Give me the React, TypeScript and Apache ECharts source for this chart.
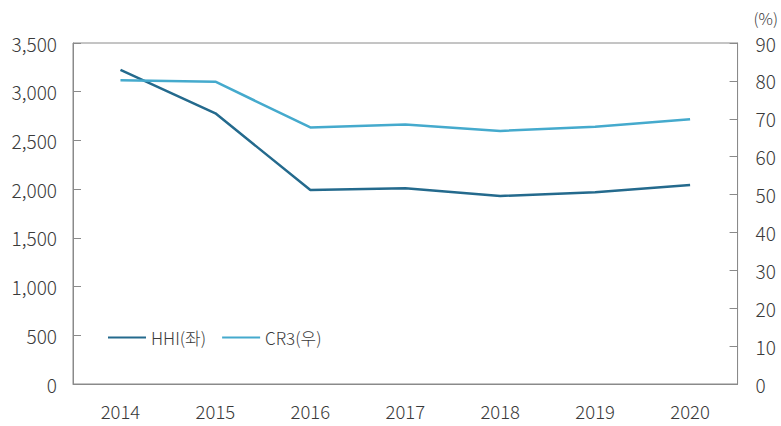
import React, { useEffect, useRef } from "react";
import * as echarts from "echarts";

const years = ["2014", "2015", "2016", "2017", "2018", "2019", "2020"];
const hhi = [3223, 2778, 1991, 2009, 1930, 1967, 2042];
const cr3 = [80.2, 79.8, 67.7, 68.5, 66.8, 67.9, 69.9];
const seriesNames = ["HHI(좌)", "CR3(우)"];

const FONT = "'Noto Sans CJK KR', 'Noto Sans', sans-serif";
const TEXT = "#3a3a3a";
const AXIS = "#8a8a8a";

export default function App() {
  const ref = useRef<HTMLDivElement>(null);
  useEffect(() => {
    if (!ref.current) return;
    const chart = echarts.init(ref.current, undefined, { renderer: "svg" });
    chart.setOption({
      animation: false,
      textStyle: { fontFamily: FONT },
      grid: {
        left: 73,
        right: 43,
        top: 43,
        bottom: 42,
        show: true,
        borderColor: AXIS,
        borderWidth: 1,
        containLabel: false,
      },
      legend: {
        left: 103,
        top: 324,
        itemWidth: 38,
        itemHeight: 10,
        itemGap: 16,
        icon: "path://M0,4 L38,4 L38,6 L0,6 Z",
        textStyle: { fontSize: 17, color: TEXT, fontFamily: FONT, fontWeight: 300 },
        data: seriesNames,
      },
      xAxis: {
        type: "category",
        data: years,
        boundaryGap: true,
        axisLine: { lineStyle: { color: AXIS, width: 1 } },
        axisTick: { inside: true, length: 7, lineStyle: { color: AXIS } },
        axisLabel: { fontSize: 18.5, color: TEXT, margin: 18, fontFamily: FONT, fontWeight: 300 },
        splitLine: { show: false },
      },
      yAxis: [
        {
          type: "value",
          min: 0,
          max: 3500,
          interval: 500,
          axisLine: { show: true, lineStyle: { color: AXIS } },
          axisTick: { show: true, inside: true, length: 8, lineStyle: { color: AXIS } },
          axisLabel: {
            fontSize: 19,
            color: TEXT,
            margin: 16,
            fontFamily: FONT,
            fontWeight: 300,
            formatter: (v: number) => v.toLocaleString("en-US"),
          },
          splitLine: { show: false },
        },
        {
          type: "value",
          min: 0,
          max: 90,
          interval: 10,
          name: "(%)",
          nameGap: 17,
          nameTextStyle: { fontSize: 16, color: TEXT, fontFamily: FONT, fontWeight: 300, align: "left", padding: [0, 0, 0, 16] },
          axisLine: { show: true, lineStyle: { color: AXIS } },
          axisTick: { show: true, inside: true, length: 8, lineStyle: { color: AXIS } },
          axisLabel: { fontSize: 19, color: TEXT, margin: 18, fontFamily: FONT, fontWeight: 300 },
          splitLine: { show: false },
        },
      ],
      series: [
        {
          name: seriesNames[0],
          type: "line",
          data: hhi,
          yAxisIndex: 0,
          symbol: "none",
          color: "#246a8d",
          lineStyle: { width: 2.5, color: "#246a8d" },
        },
        {
          name: seriesNames[1],
          type: "line",
          data: cr3,
          yAxisIndex: 1,
          symbol: "none",
          color: "#45aacd",
          lineStyle: { width: 2.5, color: "#45aacd" },
        },
      ],
    });
    return () => chart.dispose();
  }, []);
  return (
    <div
      ref={ref}
      style={{ position: "fixed", left: 0, top: 0, width: 781, height: 426, background: "#fff" }}
    />
  );
}
